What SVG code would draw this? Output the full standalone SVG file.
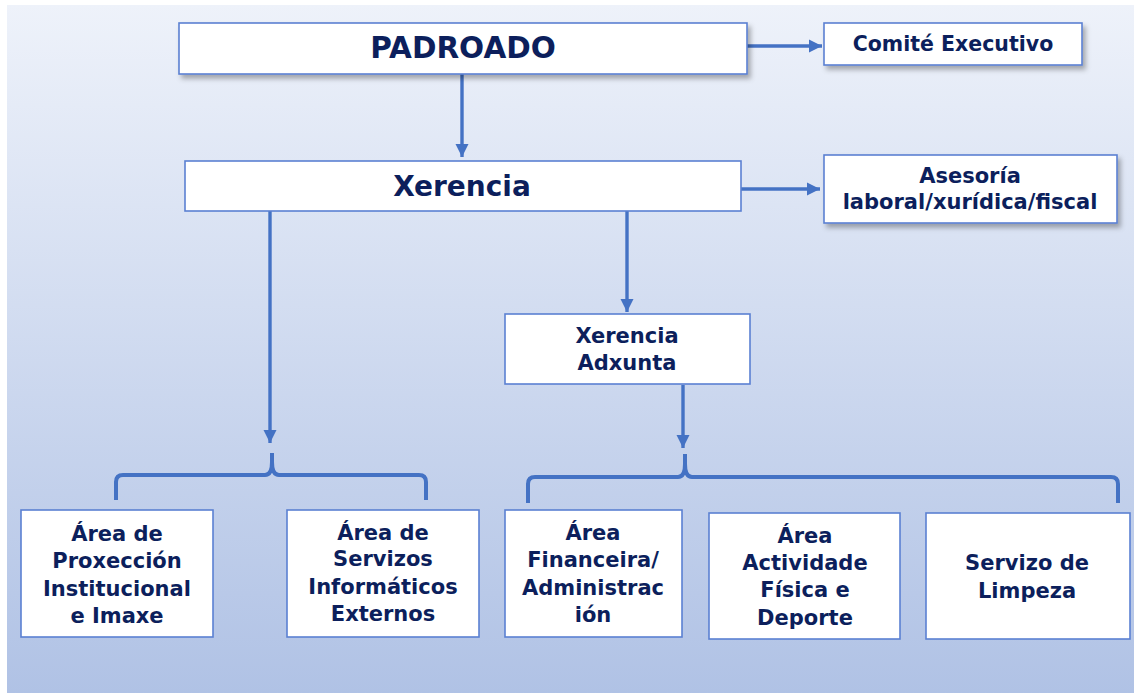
<svg xmlns="http://www.w3.org/2000/svg" width="1134" height="693" viewBox="0 0 1134 693">
<defs>
<linearGradient id="bg" x1="0" y1="0" x2="0" y2="1">
<stop offset="0" stop-color="#eef2fa"/>
<stop offset="1" stop-color="#b0c2e5"/>
</linearGradient>
<filter id="sh" x="-5%" y="-20%" width="115%" height="160%">
<feDropShadow dx="3" dy="4" stdDeviation="2.5" flood-color="#000" flood-opacity="0.3"/>
</filter>
<marker id="ah" viewBox="0 0 14 14" refX="13" refY="7" markerWidth="14" markerHeight="14" markerUnits="userSpaceOnUse" orient="auto">
<path d="M0,0.5 L13,7 L0,13.5 Z" fill="#4472c4"/>
</marker>
</defs>
<style>
.box{fill:#fff;stroke:#5b80d2;stroke-width:1.6}
.t{font-family:"DejaVu Sans",sans-serif;font-weight:bold;fill:#0c1f5c;text-anchor:middle;font-size:21px}
.big{font-size:28px}
.pd{font-size:29.5px}
.sm{font-size:20.5px}
.c{fill:none;stroke:#4472c4;stroke-width:3.4}
.br{fill:none;stroke:#4472c4;stroke-width:4;stroke-linejoin:round}
</style>
<rect width="1134" height="693" fill="#fff"/>
<rect x="7" y="5" width="1127" height="688" fill="url(#bg)"/>
<g id="connectors">
<path class="c" d="M747,46 H822" marker-end="url(#ah)"/>
<path class="c" d="M462,74 V157" marker-end="url(#ah)"/>
<path class="c" d="M741,189 H820" marker-end="url(#ah)"/>
<path class="c" d="M270,211 V443" marker-end="url(#ah)"/>
<path class="c" d="M627,211 V312" marker-end="url(#ah)"/>
<path class="c" d="M683,385 V448" marker-end="url(#ah)"/>
<path class="br" d="M116,500 V482 Q116,475 123,475 H265 Q272,475 272,462 V453 M272,462 Q272,475 279,475 H419 Q426,475 426,482 V500"/>
<path class="br" d="M528,503 V484 Q528,477 535,477 H678 Q685,477 685,464 V454 M685,464 Q685,477 692,477 H1111 Q1118,477 1118,484 V503"/>
</g>
<g id="padroado">
<rect class="box" x="179" y="23" width="568" height="51" filter="url(#sh)"/>
<text class="t pd" x="463" y="58">PADROADO</text>
</g>
<g id="comite">
<rect class="box" x="824" y="23" width="258" height="42" filter="url(#sh)"/>
<text class="t sm" x="953" y="51">Comité Executivo</text>
</g>
<g id="xerencia">
<rect class="box" x="185" y="161" width="556" height="50"/>
<text class="t big" x="462" y="196">Xerencia</text>
</g>
<g id="asesoria">
<rect class="box" x="824" y="155" width="293" height="68" filter="url(#sh)"/>
<text class="t" x="970" y="183">Asesoría</text>
<text class="t" x="970" y="209">laboral/xurídica/fiscal</text>
</g>
<g id="xerencia-adxunta">
<rect class="box" x="505" y="314" width="245" height="70"/>
<text class="t" x="627" y="343">Xerencia</text>
<text class="t" x="627" y="370">Adxunta</text>
</g>
<g id="area-proxeccion">
<rect class="box" x="21" y="510" width="192" height="127"/>
<text class="t" x="117" y="541">Área de</text>
<text class="t" x="117" y="568">Proxección</text>
<text class="t" x="117" y="596">Institucional</text>
<text class="t" x="117" y="623">e Imaxe</text>
</g>
<g id="area-servizos">
<rect class="box" x="287" y="510" width="192" height="127"/>
<text class="t" x="383" y="540">Área de</text>
<text class="t" x="383" y="566">Servizos</text>
<text class="t" x="383" y="594">Informáticos</text>
<text class="t" x="383" y="621">Externos</text>
</g>
<g id="area-financeira">
<rect class="box" x="505" y="510" width="177" height="127"/>
<text class="t" x="593" y="540">Área</text>
<text class="t" x="593" y="567">Financeira/</text>
<text class="t" x="593" y="595">Administrac</text>
<text class="t" x="593" y="622">ión</text>
</g>
<g id="area-actividade">
<rect class="box" x="709" y="513" width="191" height="126"/>
<text class="t" x="805" y="543">Área</text>
<text class="t" x="805" y="570">Actividade</text>
<text class="t" x="805" y="597">Física e</text>
<text class="t" x="805" y="625">Deporte</text>
</g>
<g id="servizo-limpeza">
<rect class="box" x="926" y="513" width="204" height="126"/>
<text class="t" x="1027" y="570">Servizo de</text>
<text class="t" x="1027" y="598">Limpeza</text>
</g>
</svg>
